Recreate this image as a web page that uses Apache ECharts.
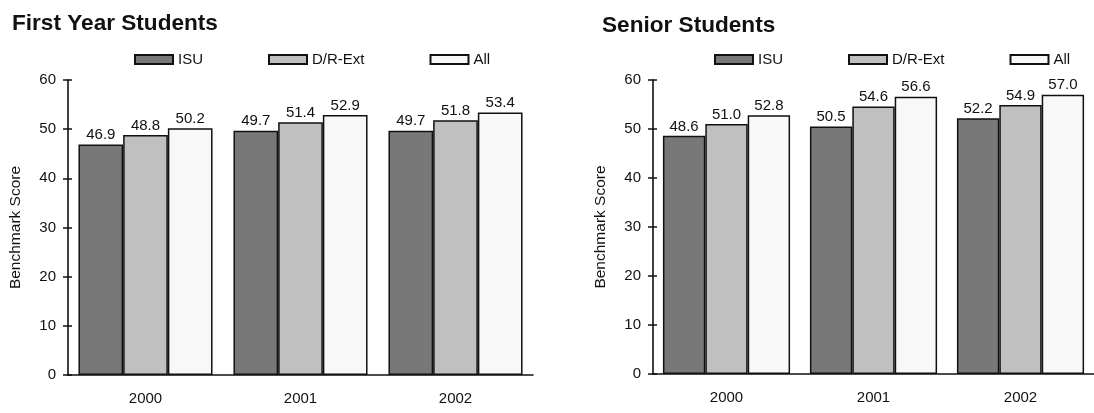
<!DOCTYPE html>
<html>
<head>
<meta charset="utf-8">
<script src="https://cdn.jsdelivr.net/npm/echarts@6/dist/echarts.min.js"></script>
<style>
  html, body { margin: 0; padding: 0; background: #fff; }
  #chart { width: 1094px; height: 413px; }
</style>
</head>
<body>
<div id="chart"></div>
<script>
// data
const years = ['2000', '2001', '2002'];
const seriesNames = ['ISU', 'D/R-Ext', 'All'];
const firstYearISU = [46.9, 49.7, 49.7];
const firstYearDR = [48.8, 51.4, 51.8];
const firstYearAll = [50.2, 52.9, 53.4];
const seniorISU = [48.6, 50.5, 52.2];
const seniorDR = [51.0, 54.6, 54.9];
const seniorAll = [52.8, 56.6, 57.0];
const yTicks = [0, 10, 20, 30, 40, 50, 60];

const FONT = 'Liberation Sans, Arial, sans-serif';
const barColors = ['#787878', '#c0c0c0', '#f8f8f8'];
const ink = '#111';

function makeBar(name, data, gridIdx, colorIdx) {
    return {
        name: name,
        type: 'bar',
        xAxisIndex: gridIdx,
        yAxisIndex: gridIdx * 2,
        data: data,
        barGap: '0%',
        barCategoryGap: '13.5%',
        itemStyle: { color: barColors[colorIdx], borderColor: ink, borderWidth: 1.5 },
        label: {
            show: true,
            position: 'top',
            distance: 2,
            color: ink,
            fontFamily: FONT,
            fontSize: 15,
            formatter: (p) => p.value.toFixed(1),
        },
    };
}

function yAxisPair(gridIdx) {
    const base = {
        gridIndex: gridIdx,
        type: 'value',
        min: yTicks[0],
        max: yTicks[yTicks.length - 1],
        interval: 10,
        splitLine: { show: false },
    };
    return [
        {
            ...base,
            name: 'Benchmark Score',
            nameLocation: 'middle',
            nameGap: 44,
            nameTextStyle: { color: ink, fontFamily: FONT, fontSize: 15.5 },
            axisLine: { show: true, lineStyle: { color: ink, width: 1.6 } },
            axisTick: { show: true, length: 5, lineStyle: { color: ink, width: 1.5 } },
            axisLabel: { color: ink, fontFamily: FONT, fontSize: 15, margin: 12 },
        },
        {
            // second axis only for the inner half of the crossing ticks
            ...base,
            position: 'left',
            axisLine: { show: false },
            axisTick: { show: true, inside: true, length: 4, lineStyle: { color: ink, width: 1.5 } },
            axisLabel: { show: false },
        },
    ];
}

function xAxisFor(gridIdx) {
    return {
        gridIndex: gridIdx,
        type: 'category',
        data: years,
        axisLine: { show: true, lineStyle: { color: ink, width: 1.6 } },
        axisTick: { show: false },
        axisLabel: { color: ink, fontFamily: FONT, fontSize: 15, margin: 16 },
    };
}

function legendAt(left) {
    return {
        left: left,
        top: 47,
        itemWidth: 38,
        itemHeight: 9,
        itemGap: 65,
        icon: 'rect',
        selectedMode: false,
        textStyle: { color: ink, fontFamily: FONT, fontSize: 15 },
        data: seriesNames,
    };
}

const chart = echarts.init(document.getElementById('chart'));
chart.setOption({
    animation: false,
    backgroundColor: '#fff',
    title: [
        { text: 'First Year Students', left: 7, top: 7, textStyle: { color: ink, fontFamily: FONT, fontSize: 22.6, fontWeight: 'bold' } },
        { text: 'Senior Students', left: 597, top: 9, textStyle: { color: ink, fontFamily: FONT, fontSize: 22.6, fontWeight: 'bold' } },
    ],
    legend: [legendAt(129), legendAt(709)],
    grid: [
        { left: 68, top: 80, width: 465, height: 295 },
        { left: 653, top: 80, width: 441, height: 294 },
    ],
    xAxis: [xAxisFor(0), xAxisFor(1)],
    yAxis: [...yAxisPair(0), ...yAxisPair(1)],
    series: [
        makeBar('ISU', firstYearISU, 0, 0),
        makeBar('D/R-Ext', firstYearDR, 0, 1),
        makeBar('All', firstYearAll, 0, 2),
        makeBar('ISU', seniorISU, 1, 0),
        makeBar('D/R-Ext', seniorDR, 1, 1),
        makeBar('All', seniorAll, 1, 2),
    ],
});
</script>
</body>
</html>
